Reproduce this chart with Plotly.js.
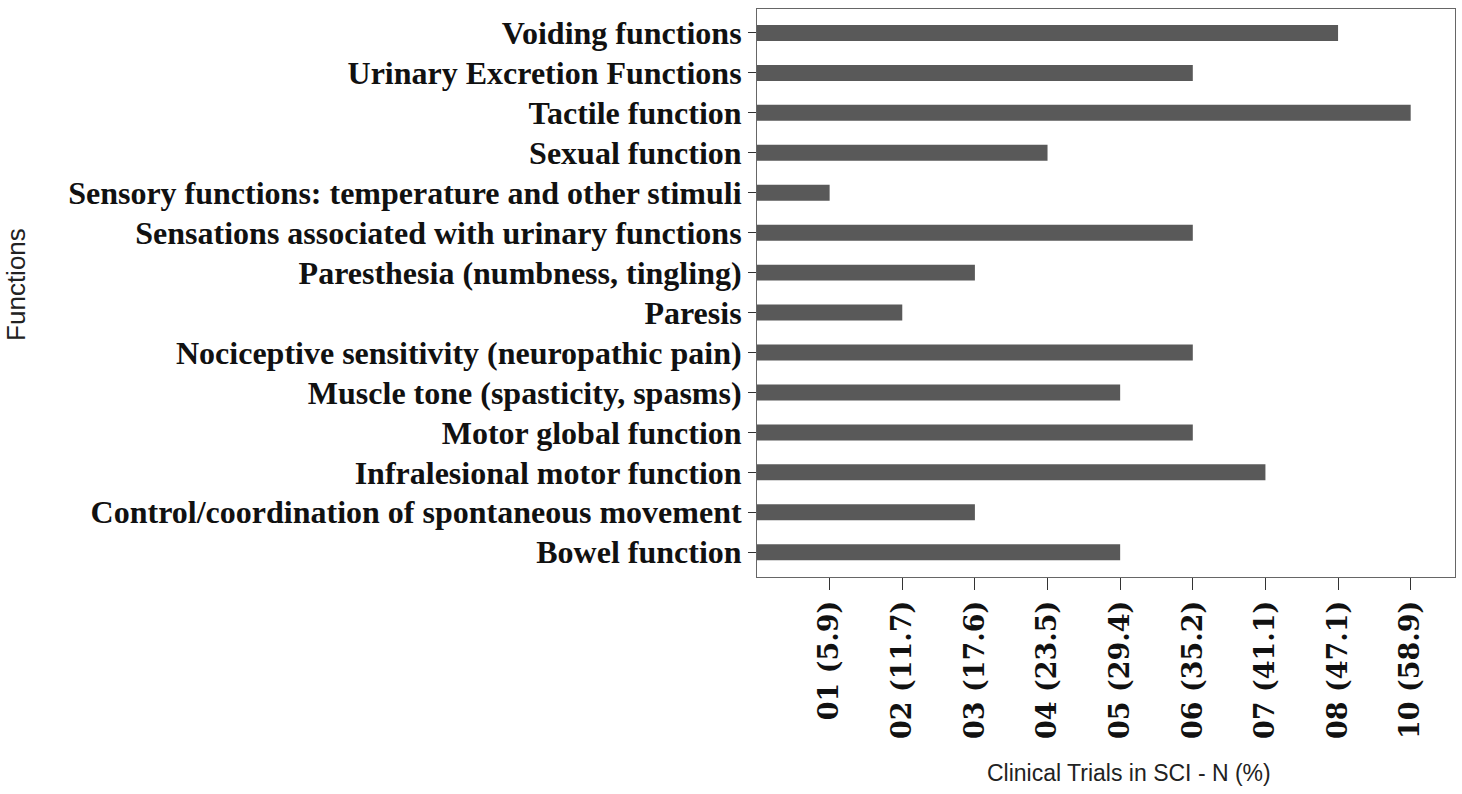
<!DOCTYPE html>
<html>
<head>
<meta charset="utf-8">
<script src="https://cdn.plot.ly/plotly-3.0.1.min.js"></script>
<style>html,body{margin:0;padding:0;background:#fff;}#chart{width:1462px;height:794px;}</style>
</head>
<body>
<div id="chart"></div>
<script>
const functions = [
  "Voiding functions",
  "Urinary Excretion Functions",
  "Tactile function",
  "Sexual function",
  "Sensory functions: temperature and other stimuli",
  "Sensations associated with urinary functions",
  "Paresthesia (numbness, tingling)",
  "Paresis",
  "Nociceptive sensitivity (neuropathic pain)",
  "Muscle tone (spasticity, spasms)",
  "Motor global function",
  "Infralesional motor function",
  "Control/coordination of spontaneous movement",
  "Bowel function"
];
const trialCounts = [8, 6, 10, 4, 1, 6, 3, 2, 6, 5, 6, 7, 3, 5];
const levelCounts = [1, 2, 3, 4, 5, 6, 7, 8, 10];
const levelPercents = ["5.9", "11.7", "17.6", "23.5", "29.4", "35.2", "41.1", "47.1", "58.9"];
const tickLabels = levelCounts.map((c, i) => String(c).padStart(2, "0") + " (" + levelPercents[i] + ")");

// ordinal position of each count on the axis (levels are evenly spaced)
const positions = trialCounts.map(c => levelCounts.indexOf(c) + 1);
const tickPositions = levelCounts.map((c, i) => i + 1);

const serif = "'Liberation Serif', 'Times New Roman', serif";
const serif2 = "'DejaVu Serif', 'Liberation Serif', serif";
const sans = "'Liberation Sans', Arial, sans-serif";

const trace = {
  type: "bar",
  orientation: "h",
  x: positions,
  y: functions,
  width: 0.4,
  marker: {color: "#595959", line: {width: 0}},
  customdata: trialCounts,
  hovertemplate: "%{y}: %{customdata}<extra></extra>"
};

const layout = {
  width: 1462,
  height: 794,
  margin: {l: 757, r: 7, t: 9, b: 217},
  paper_bgcolor: "#ffffff",
  plot_bgcolor: "#ffffff",
  showlegend: false,
  xaxis: {
    range: [0, 9.61],
    tickmode: "array",
    tickvals: tickPositions,
    ticktext: tickLabels,
    tickangle: -90,
    ticks: "outside",
    ticklen: 12,
    tickcolor: "#333",
    tickfont: {family: serif2, size: 27, color: "#111", weight: "bold"},
    showgrid: false,
    zeroline: false,
    showline: true,
    mirror: true,
    linecolor: "#666",
    linewidth: 1
  },
  yaxis: {
    type: "category",
    categoryorder: "array",
    categoryarray: functions,
    range: [13.62, -0.6],
    ticks: "outside",
    ticklen: 8,
    tickcolor: "#333",
    tickfont: {family: serif, size: 32, color: "#111", weight: "bold"},
    showgrid: false,
    zeroline: false,
    showline: true,
    mirror: true,
    linecolor: "#666",
    linewidth: 1
  },
  annotations: [
    {text: "Clinical Trials in SCI - N (%)", xref: "paper", yref: "paper", x: 0.533, y: -0.345,
     xanchor: "center", yanchor: "middle", showarrow: false,
     font: {family: sans, size: 23, color: "#222"}},
    {text: "Functions", xref: "paper", yref: "paper", x: -1.061, y: 0.515,
     xanchor: "center", yanchor: "middle", showarrow: false, textangle: -90,
     font: {family: sans, size: 26, color: "#222"}}
  ]
};

Plotly.newPlot("chart", [trace], layout, {displayModeBar: false, staticPlot: true});
</script>
</body>
</html>
